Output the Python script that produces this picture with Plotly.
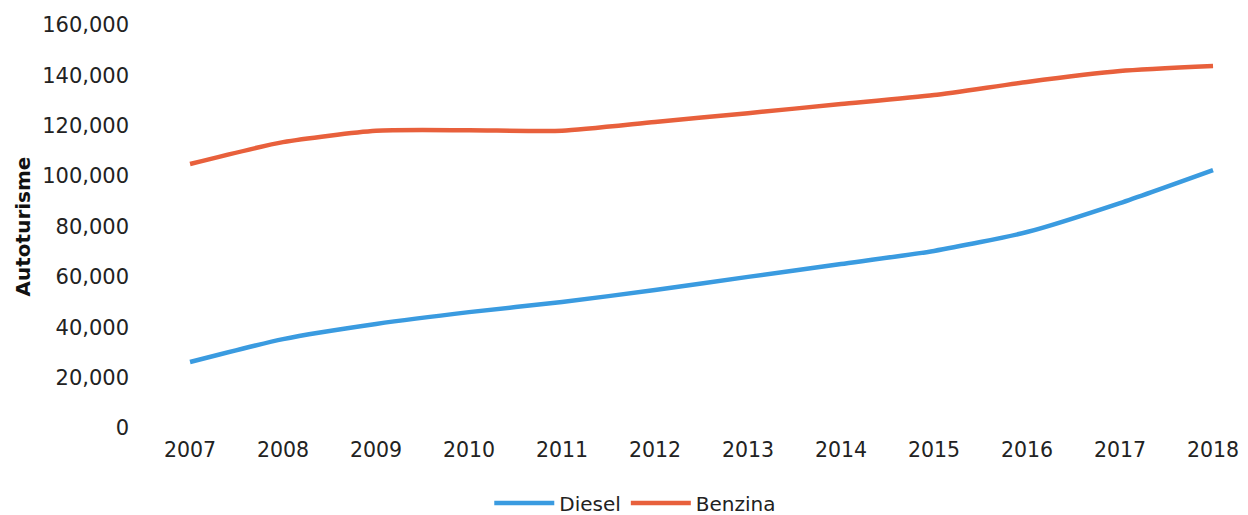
import plotly.graph_objects as go

# Registered passenger cars by fuel type, 2007-2018
years = [2007, 2008, 2009, 2010, 2011, 2012, 2013, 2014, 2015, 2016, 2017, 2018]
diesel = [26200, 35300, 41300, 46000, 50000, 54800, 60000, 65100, 70300, 77800, 89300, 102400]
benzina = [104800, 113500, 118000, 118200, 118000, 121500, 125000, 128600, 132200, 137400, 141700, 143700]

y_ticks = [0, 20000, 40000, 60000, 80000, 100000, 120000, 140000, 160000]
y_tick_text = ["0", "20,000", "40,000", "60,000", "80,000", "100,000", "120,000", "140,000", "160,000"]

BLUE = "#3a9be0"
RED = "#e8603c"
FONT = "DejaVu Sans"

fig = go.Figure()
fig.add_trace(go.Scatter(x=years, y=diesel, name="Diesel", mode="lines",
                         line=dict(color=BLUE, width=4.5, shape="spline", smoothing=0.6)))
fig.add_trace(go.Scatter(x=years, y=benzina, name="Benzina", mode="lines",
                         line=dict(color=RED, width=4.5, shape="spline", smoothing=0.6)))

fig.update_layout(
    width=1248, height=515,
    margin=dict(l=140, r=0, t=25, b=87, autoexpand=False),
    paper_bgcolor="white", plot_bgcolor="white",
    font=dict(family=FONT, size=18, color="#222222"),
    xaxis=dict(range=[2006.462, 2018.376], tickmode="array", tickvals=years,
               ticktext=[str(y) for y in years], showgrid=False, zeroline=False,
               showline=False, ticks="", tickfont=dict(size=20.5), ticklabelstandoff=7,
               automargin=False),
    yaxis=dict(range=[0, 160000], tickmode="array", tickvals=y_ticks, ticktext=y_tick_text,
               showgrid=False, zeroline=False, showline=False, ticks="",
               tickfont=dict(size=21), ticklabelstandoff=10, automargin=False,
               title=dict(text="<b>Autoturisme</b>", font=dict(size=20, color="#111111"), standoff=6)),
    legend=dict(orientation="h", x=0.447, xanchor="center", yref="paper", y=-0.138,
                yanchor="top", font=dict(size=20), itemwidth=60, tracegroupgap=0,
                bgcolor="rgba(0,0,0,0)"),
    showlegend=True,
)

fig.write_html("out.html")
